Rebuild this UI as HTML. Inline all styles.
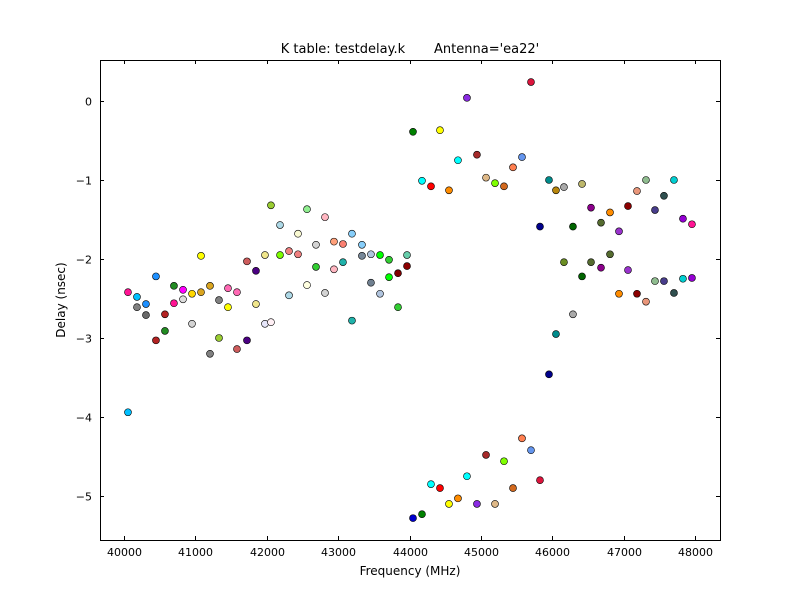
<!DOCTYPE html>
<html><head><meta charset="utf-8"><style>
body{margin:0;background:#fff;}
svg text{font-family:"DejaVu Sans","Liberation Sans",sans-serif;}
</style></head><body>
<svg id="chart" width="800" height="600" xmlns="http://www.w3.org/2000/svg">
<rect width="800" height="600" fill="#fff"/>
<text x="410" y="53" text-anchor="middle" font-size="13" xml:space="preserve">K table: testdelay.k       Antenna='ea22'</text>
<text x="410" y="575" text-anchor="middle" font-size="12">Frequency (MHz)</text>
<text x="65" y="300" text-anchor="middle" font-size="12" transform="rotate(-90 65 300)">Delay (nsec)</text>
<g id="ticks"></g>
<g id="points"></g>
<rect x="100.5" y="60.5" width="620" height="480" fill="none" stroke="#000" stroke-width="1"/>
</svg>
<script>
const xTicks=[40000,41000,42000,43000,44000,45000,46000,47000,48000];
const yTicks=[0,-1,-2,-3,-4,-5];
const freqs=[40056,40056,40182,40182,40308,40308,40448,40448,40574,40574,40700,40700,40827,40827,40953,40953,41079,41079,41205,41205,41331,41331,41457,41457,41583,41583,41723,41723,41849,41849,41975,41975,42059,42059,42186,42186,42312,42312,42438,42438,42564,42564,42690,42690,42816,42816,42942,42942,43068,43068,43194,43194,43334,43334,43460,43460,43587,43587,43713,43713,43839,43839,43965,43965,
44049,44175,44301,44427,44553,44679,44805,44945,45072,45198,45324,45450,45576,45702,45828,45954,46052,46164,46164,46290,46417,46417,46543,46543,46683,46683,46809,46809,46935,46935,47061,47061,47187,47187,47313,47313,47439,47439,47565,47565,47705,47705,47831,47831,47957,47957,
44049,44175,44301,44427,44553,44679,44805,44945,45072,45198,45324,45450,45576,45702,45828,45954,46052,46290];
const delays=[-3.94,-2.42,-2.48,-2.61,-2.57,-2.71,-2.22,-3.03,-2.91,-2.70,-2.34,-2.56,-2.39,-2.51,-2.44,-2.82,-1.96,-2.42,-2.34,-3.20,-2.52,-3.00,-2.37,-2.61,-2.42,-3.14,-2.03,-3.03,-2.15,-2.57,-1.95,-2.82,-2.80,-1.32,-1.57,-1.95,-1.90,-2.46,-1.68,-1.94,-2.33,-1.37,-2.10,-1.82,-1.47,-2.43,-2.13,-1.78,-1.81,-2.04,-1.68,-2.78,-1.82,-1.96,-1.94,-2.30,-1.95,-2.44,-2.01,-2.23,-2.61,-2.18,-2.09,-1.95,
-0.39,-1.01,-1.08,-0.37,-1.13,-0.75,0.04,-0.68,-0.97,-1.04,-1.08,-0.84,-0.71,0.24,-1.59,-1.00,-1.13,-1.09,-2.04,-1.59,-1.05,-2.22,-1.35,-2.04,-1.54,-2.11,-1.41,-1.94,-1.65,-2.44,-1.33,-2.14,-1.14,-2.44,-1.00,-2.54,-1.38,-2.28,-1.20,-2.28,-1.00,-2.43,-1.49,-2.25,-1.56,-2.24,
-5.28,-5.23,-4.85,-4.90,-5.10,-5.03,-4.75,-5.10,-4.48,-5.10,-4.56,-4.90,-4.27,-4.42,-4.80,-3.46,-2.95,-2.70];
const colors=["deepskyblue","deeppink","deepskyblue","gray","dodgerblue","dimgray","dodgerblue","firebrick","forestgreen","firebrick","forestgreen","deeppink","magenta","gainsboro","gold","lightgray","yellow","goldenrod","goldenrod","gray","gray","yellowgreen","hotpink","yellow","hotpink","indianred","indianred","indigo","indigo","khaki","khaki","lavender","lavenderblush","yellowgreen","lightblue","lawngreen","lightcoral","lightblue","lightgoldenrodyellow","lightcoral","lightyellow","lightgreen","limegreen","lightgray","lightpink","lightgray","lightpink","lightsalmon","salmon","lightseagreen","lightskyblue","lightseagreen","lightskyblue","lightslategray","lightsteelblue","slategray","lime","lightsteelblue","limegreen","lime","limegreen","maroon","darkred","mediumaquamarine",
"green","cyan","red","yellow","darkorange","cyan","blueviolet","brown","burlywood","chartreuse","chocolate","coral","cornflowerblue","crimson","darkblue","darkcyan","darkgoldenrod","darkgray","olivedrab","darkgreen","darkkhaki","darkgreen","darkmagenta","darkolivegreen","darkolivegreen","darkmagenta","darkorange","darkolivegreen","darkorchid","darkorange","darkred","darkorchid","darksalmon","darkred","darkseagreen","darksalmon","darkslateblue","darkseagreen","darkslategray","darkslateblue","darkturquoise","darkslategray","darkviolet","darkturquoise","deeppink","darkviolet",
"mediumblue","green","cyan","red","yellow","darkorange","cyan","blueviolet","brown","burlywood","chartreuse","chocolate","coral","cornflowerblue","crimson","darkblue","darkcyan","darkgray"];
const X0=100,X1=720,Y0=60,Y1=540;
const xMin=39664,xMax=48350,yMin=-5.557,yMax=0.519;
function sx(v){return X0+(v-xMin)/(xMax-xMin)*(X1-X0);}
function sy(v){return Y1-(v-yMin)/(yMax-yMin)*(Y1-Y0);}
const NS="http://www.w3.org/2000/svg";
const tg=document.getElementById('ticks');
function mk(tag,attrs,parent){const e=document.createElementNS(NS,tag);for(const k in attrs)e.setAttribute(k,attrs[k]);parent.appendChild(e);return e;}
xTicks.forEach(t=>{const x=Math.round(sx(t))+0.5;
 const l1=mk('line',{x1:x,x2:x,y1:Y1,y2:Y1-4,stroke:'#000'},tg);
 
 
 const l2=mk('line',{x1:x,x2:x,y1:Y0,y2:Y0+4,stroke:'#000'},tg);
 
 
 const tx=mk('text',{x:x,y:Y1+16,'text-anchor':'middle','font-size':'11'},tg);tx.textContent=t;
 
 
});
yTicks.forEach(t=>{const y=Math.round(sy(t))+0.5;
 const l1=mk('line',{x1:X0,x2:X0+4,y1:y,y2:y,stroke:'#000'},tg);
 
 
 const l2=mk('line',{x1:X1,x2:X1-4,y1:y,y2:y,stroke:'#000'},tg);
 
 
 const tx=mk('text',{x:X0-8,y:y+4,'text-anchor':'end','font-size':'11'},tg);tx.textContent=(t<0?'\u2212'+(-t):t);
 
 
});
const pg=document.getElementById('points');
freqs.forEach((f,i)=>{
 const c=mk('circle',{cx:sx(f),cy:sy(delays[i]),r:3.5,fill:colors[i],stroke:'#000','stroke-width':0.6},pg);
 
 
});
</script>
</body></html>
